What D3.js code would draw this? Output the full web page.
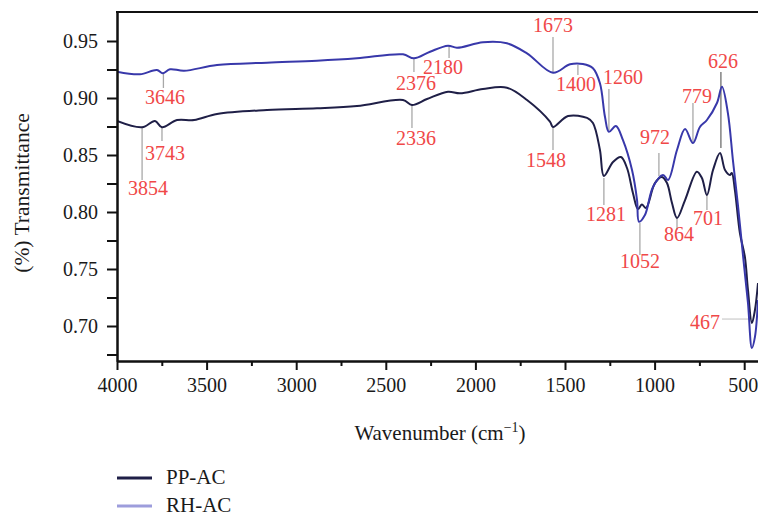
<!DOCTYPE html>
<html>
<head>
<meta charset="utf-8">
<script src="https://cdn.jsdelivr.net/npm/d3@7"></script>
<style>
  html, body { margin: 0; padding: 0; background: #fff; }
  svg { display: block; font-family: "Liberation Serif", "DejaVu Serif", serif; }
</style>
</head>
<body>
<svg id="chart" width="758" height="515"></svg>
<script>
// values
const rhWavenumber = [4000, 3872, 3777, 3745, 3704, 3626, 3442, 3163, 2884, 2661, 2404, 2343, 2253, 2153, 2103, 1958, 1824, 1712, 1567, 1472, 1400, 1344, 1305, 1277, 1255, 1216, 1177, 1126, 1098, 1087, 1054, 1009, 953, 925, 875, 830, 786, 747, 708, 652, 624, 591, 563, 535, 507, 479, 457, 440, 423];
const rhTransmittance = [0.9231, 0.9208, 0.9246, 0.9217, 0.9252, 0.9239, 0.9289, 0.9310, 0.9327, 0.9348, 0.9383, 0.9348, 0.9406, 0.9459, 0.9441, 0.9489, 0.9480, 0.9392, 0.9222, 0.9296, 0.9298, 0.9261, 0.9129, 0.8836, 0.8704, 0.8754, 0.8632, 0.8368, 0.8105, 0.7915, 0.7974, 0.8219, 0.8325, 0.8281, 0.8544, 0.8728, 0.8605, 0.8746, 0.8807, 0.8956, 0.9099, 0.8868, 0.8456, 0.8061, 0.7623, 0.7202, 0.6807, 0.6904, 0.7228];

const ppWavenumber = [4000, 3860, 3788, 3749, 3665, 3570, 3442, 3163, 2884, 2661, 2404, 2354, 2270, 2153, 2086, 1958, 1824, 1712, 1584, 1567, 1483, 1377, 1344, 1305, 1283, 1232, 1188, 1154, 1121, 1093, 1071, 1048, 998, 959, 931, 903, 875, 830, 764, 736, 708, 674, 635, 607, 580, 569, 552, 524, 496, 479, 457, 440, 423];
const ppTransmittance = [0.8798, 0.8743, 0.8798, 0.8743, 0.8807, 0.8807, 0.8860, 0.8895, 0.8910, 0.8930, 0.8982, 0.8939, 0.8991, 0.9055, 0.9041, 0.9079, 0.9090, 0.8982, 0.8792, 0.8746, 0.8842, 0.8825, 0.8781, 0.8544, 0.8316, 0.8439, 0.8482, 0.8386, 0.8167, 0.8026, 0.8066, 0.8035, 0.8254, 0.8307, 0.8254, 0.8079, 0.7947, 0.8105, 0.8354, 0.8298, 0.8149, 0.8368, 0.8518, 0.8368, 0.8325, 0.8342, 0.8193, 0.7816, 0.7605, 0.7316, 0.7026, 0.7140, 0.7377];

const seriesNames = ["PP-AC", "RH-AC"];
const xTickValues = [4000, 3500, 3000, 2500, 2000, 1500, 1000, 500];
const yTickValues = [0.70, 0.75, 0.80, 0.85, 0.90, 0.95];

// peak callouts: text, leader position (wavenumber), leader start/end transmittance
const peakText = ["3646", "3743", "3854", "2376", "2180", "2336", "1673", "1400", "1260", "1548", "1281", "1052", "972", "864", "701", "779", "626"];
const peakWavenumber = [3741, 3749, 3860, 2343, 2147, 2354, 1567, 1428, 1255, 1567, 1283, 1082, 976, 875, 708, 786, 630];
const peakFrom = [0.9211, 0.8737, 0.8746, 0.9351, 0.9456, 0.8939, 0.9228, 0.9289, 0.8719, 0.8746, 0.8298, 0.7904, 0.8316, 0.7947, 0.8149, 0.8605, 0.8561];
const peakTo = [0.9088, 0.8623, 0.8281, 0.9228, 0.9351, 0.8737, 0.9535, 0.9202, 0.9079, 0.8544, 0.8061, 0.7623, 0.8518, 0.7842, 0.8018, 0.8956, 0.9228];

const width = 758;
const height = 515;
const margin = { left: 117, top: 12, right: 0, bottom: 361 };

const colors = {
  pp: "#1f1f47",
  rh: "#3838aa",
  rhLegend: "#9d9ddc",
  label: "#f04848",
  leader: "#a8a8a8"
};

const svg = d3.select("#chart");

const x = d3.scaleLinear().domain([4000, 423]).range([margin.left, width]);
const y = d3.scaleLinear().domain([0.6693, 0.97544]).range([margin.bottom, margin.top]);

svg.append("defs").append("clipPath").attr("id", "plot-clip")
  .append("rect")
  .attr("x", margin.left)
  .attr("y", margin.top)
  .attr("width", width - margin.left)
  .attr("height", margin.bottom - margin.top);

// leaders under the curves
const leaders = svg.append("g").attr("class", "leaders");
peakText.forEach((text, i) => {
  leaders.append("line")
    .attr("x1", x(peakWavenumber[i]))
    .attr("x2", x(peakWavenumber[i]))
    .attr("y1", y(peakFrom[i]))
    .attr("y2", y(peakTo[i]))
    .attr("stroke", text === "626" ? "#6e6e6e" : colors.leader)
    .attr("stroke-width", 1.3);
});
leaders.append("line")
  .attr("x1", x(473)).attr("x2", x(624))
  .attr("y1", y(0.7061)).attr("y2", y(0.7061))
  .attr("stroke", "#cfcfcf").attr("stroke-width", 1.3);

const line = d3.line()
  .x((d) => x(d[0]))
  .y((d) => y(d[1]))
  .curve(d3.curveCatmullRom.alpha(0.5));

const curves = svg.append("g").attr("clip-path", "url(#plot-clip)");
curves.append("path")
  .datum(d3.zip(ppWavenumber, ppTransmittance))
  .attr("d", line)
  .attr("fill", "none")
  .attr("stroke", colors.pp)
  .attr("stroke-width", 2);
curves.append("path")
  .datum(d3.zip(rhWavenumber, rhTransmittance))
  .attr("d", line)
  .attr("fill", "none")
  .attr("stroke", colors.rh)
  .attr("stroke-width", 2);

// axes
const xMinor = d3.range(4000, 400, -250).filter((v) => v % 500 !== 0);
const yMinor = [0.675, 0.725, 0.775, 0.825, 0.875, 0.925];

const xAxis = svg.append("g")
  .attr("transform", `translate(0,${margin.bottom})`)
  .call(d3.axisBottom(x).tickValues(xTickValues).tickSize(9).tickPadding(8).tickFormat(d3.format("d")).tickSizeOuter(0));
svg.append("g")
  .attr("transform", `translate(0,${margin.bottom})`)
  .call(d3.axisBottom(x).tickValues(xMinor).tickSize(5).tickFormat("").tickSizeOuter(0));

svg.append("g")
  .attr("transform", `translate(${margin.left},0)`)
  .call(d3.axisLeft(y).tickValues(yTickValues).tickSize(10).tickPadding(9).tickFormat(d3.format(".2f")).tickSizeOuter(0));
svg.append("g")
  .attr("transform", `translate(${margin.left},0)`)
  .call(d3.axisLeft(y).tickValues(yMinor).tickSize(10).tickFormat("").tickSizeOuter(0));

svg.selectAll(".domain, .tick line").attr("stroke", "#111").attr("stroke-width", 2);
svg.selectAll(".tick text")
  .attr("font-family", "Liberation Serif, serif")
  .attr("font-size", 20)
  .attr("fill", "#1a1a1a");
// last label sits right against the cropped edge
xAxis.selectAll(".tick text").filter((d) => d === 500).attr("dx", -1.5);

svg.append("line")
  .attr("x1", margin.left - 1).attr("x2", width)
  .attr("y1", margin.top).attr("y2", margin.top)
  .attr("stroke", "#111").attr("stroke-width", 2);

// axis titles
const xTitle = svg.append("text")
  .attr("x", 440)
  .attr("y", 440)
  .attr("text-anchor", "middle")
  .attr("font-size", 21)
  .attr("fill", "#1a1a1a");
xTitle.append("tspan").text("Wavenumber (cm");
xTitle.append("tspan").attr("font-size", 14).attr("dy", -8).text("\u22121");
xTitle.append("tspan").attr("dy", 8).text(")");

svg.append("text")
  .attr("transform", "translate(29,193) rotate(-90)")
  .attr("text-anchor", "middle")
  .attr("font-size", 21.5)
  .attr("fill", "#1a1a1a")
  .text("(%) Transmittance");

// peak labels
const labelOffsets = [[1.5, 16], [3, 19], [6, 15], [2, 18], [-6, 16], [4, 17], [0, -5], [-2, 16], [14, -5], [-7, 17], [2, 16], [0, 13], [-4, -9], [2, 11], [1, 15], [4, 0], [2, -4]];
const labels = svg.append("g")
  .attr("font-size", 20)
  .attr("fill", colors.label)
  .attr("text-anchor", "middle");
peakText.forEach((text, i) => {
  labels.append("text")
    .attr("x", x(peakWavenumber[i]) + labelOffsets[i][0])
    .attr("y", y(peakTo[i]) + labelOffsets[i][1])
    .text(text);
});
labels.append("text")
  .attr("x", x(624) - 2)
  .attr("y", y(0.7061) + 10)
  .attr("text-anchor", "end")
  .text("467");

// legend
const legendColors = [colors.pp, colors.rhLegend];
const legend = svg.append("g");
seriesNames.forEach((name, i) => {
  const ly = 478 + i * 28;
  legend.append("line")
    .attr("x1", 117).attr("x2", 152)
    .attr("y1", ly).attr("y2", ly)
    .attr("stroke", legendColors[i])
    .attr("stroke-width", 3);
  legend.append("text")
    .attr("x", 166)
    .attr("y", ly + 5.5)
    .attr("font-size", 21)
    .attr("fill", "#1a1a1a")
    .text(name);
});
</script>
</body>
</html>
